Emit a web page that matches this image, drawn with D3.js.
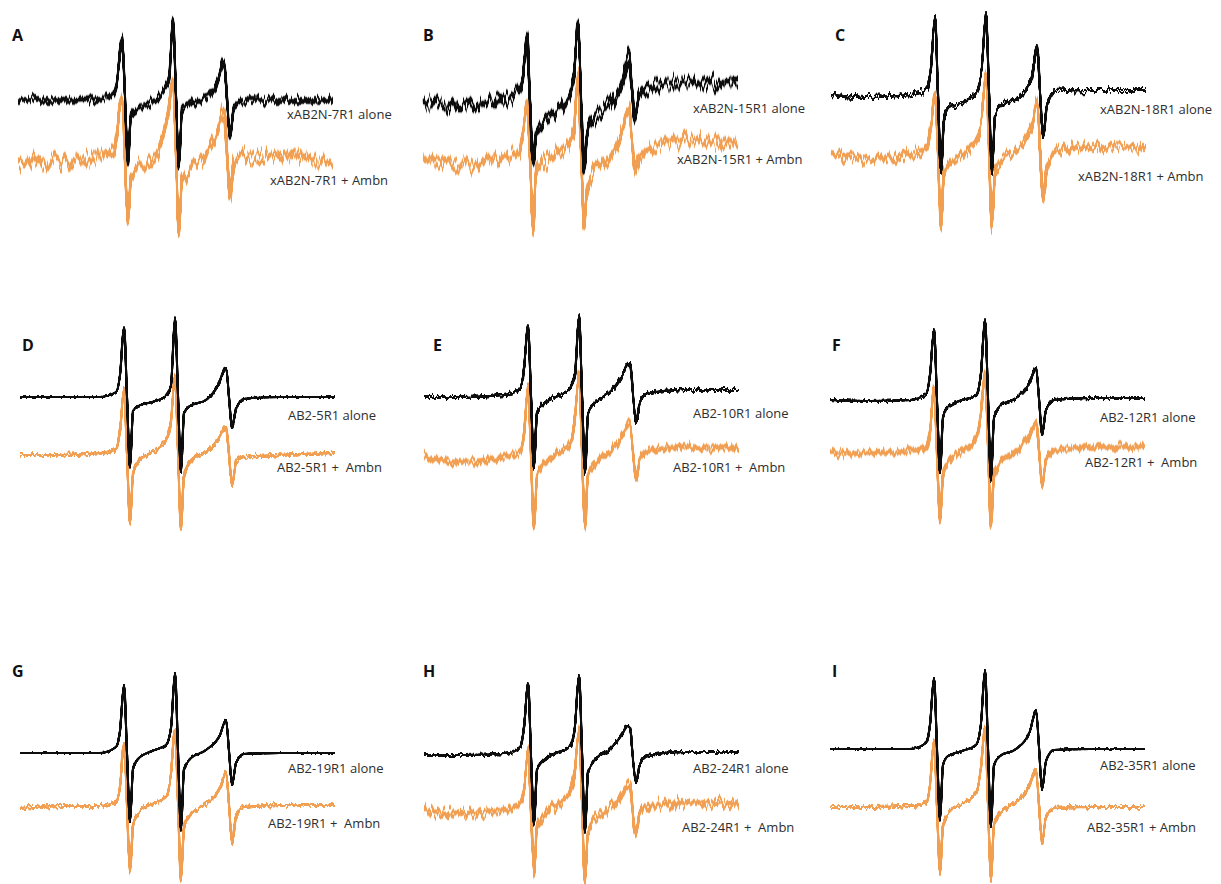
<!DOCTYPE html>
<html>
<head>
<meta charset="utf-8">
<script src="https://cdn.jsdelivr.net/npm/d3@7"></script>
<style>
  html, body { margin: 0; padding: 0; background: #fff; }
  svg { display: block; }
  .tag { font-family: "Open Sans", sans-serif; font-size: 13px; fill: #2e2e2e; white-space: pre; }
  .letter { font-family: "Open Sans", sans-serif; font-weight: 700; font-size: 16px; fill: #111; }
</style>
</head>
<body>
<div id="app"></div>
<script>
// field positions (points along the sweep) shared by every trace
const fieldKeys = [0, 40, 80, 96, 100, 104, 107, 110, 113, 118, 132, 146, 151, 155, 158, 161, 164, 170, 186, 200, 203, 206, 209, 212, 216, 224, 260, 315];

const panelLetters = [`A`, `B`, `C`, `D`, `E`, `F`, `G`, `H`, `I`];

const aloneLabels = [`xAB2N-7R1 alone`, `xAB2N-15R1 alone`, `xAB2N-18R1 alone`, `AB2-5R1 alone`, `AB2-10R1 alone`, `AB2-12R1 alone`, `AB2-19R1 alone`, `AB2-24R1 alone`, `AB2-35R1 alone`];
const ambnLabels = [`xAB2N-7R1 + Ambn`, `xAB2N-15R1 + Ambn`, `xAB2N-18R1 + Ambn`, `AB2-5R1 +  Ambn`, `AB2-10R1 +  Ambn`, `AB2-12R1 +  Ambn`, `AB2-19R1 +  Ambn`, `AB2-24R1 +  Ambn`, `AB2-35R1 + Ambn`];

// signal (a.u.) at each fieldKey, spin label alone (black)
const aloneA = [0, 0, 1, 6, 28, 65, 0, -63, -14, -9, -4, 10, 20, 80, 5, -66, -9, -4, 1, 20, 30, 40, 0, -38, -8, 0, 0, 0];
const aloneB = [0, -6, 0, 8, 25, 62, 0, -70, -35, -22, -13, 2, 25, 78, 3, -73, -35, -18, -5, 22, 35, 45, 12, -17, 4, 12, 17, 18];
const aloneC = [0, -2, 0, 6, 28, 78, 0, -78, -25, -12, -7, 4, 30, 82, 3, -77, -22, -10, -3, 14, 32, 50, 5, -43, -10, 4, 5, 5];
const aloneD = [0, 0, 0, 5, 22, 70, 0, -71, -14, -9, -5, 1, 12, 79, 2, -76, -16, -9, -3, 16, 24, 30, 0, -31, -12, -2, 0, 0];
const aloneE = [0, 0, 2, 8, 28, 72, 0, -71, -15, -8, 0, 9, 22, 82, 3, -76, -18, -7, 5, 25, 32, 34, 2, -26, -5, 4, 7, 7];
const aloneF = [0, -1, 0, 6, 25, 70, 0, -73, -18, -7, 0, 4, 27, 80, 2, -80, -18, -6, 2, 18, 27, 33, 2, -35, -10, 0, 2, 2];
const aloneG = [0, 0, 0, 6, 22, 68, 0, -69, -16, -6, 2, 8, 25, 80, 2, -77, -16, -6, 3, 18, 27, 33, 2, -32, -10, -1, 0, 0];
const aloneH = [0, 0, 1, 7, 28, 72, 0, -70, -15, -7, 2, 8, 30, 80, 3, -77, -17, -6, 6, 24, 30, 28, -5, -27, -8, 0, 3, 3];
const aloneI = [0, 0, 0, 6, 24, 71, 0, -71, -16, -7, -2, 4, 26, 79, 1, -78, -16, -7, 0, 18, 30, 39, 2, -41, -12, -1, 0, 0];

// signal (a.u.) at each fieldKey, with Ambn (orange)
const ambnA = [-2, 0, 3, 12, 35, 62, 0, -65, -15, -7, 0, 26, 55, 78, 3, -72, -20, -10, 4, 32, 45, 50, 5, -40, -2, 5, 5, -5];
const ambnB = [3, -5, 3, 8, 25, 58, 0, -70, -15, -5, 5, 17, 32, 83, 10, -63, -30, -12, 3, 32, 45, 50, 20, -10, 2, 10, 20, 15];
const ambnC = [2, -4, 2, 8, 30, 63, 0, -73, -15, -8, 0, 15, 40, 82, 5, -75, -15, -5, 5, 25, 40, 55, 5, -47, -12, 3, 8, 8];
const ambnD = [0, 0, 2, 6, 25, 65, 0, -68, -20, -7, 3, 14, 35, 78, 3, -75, -20, -7, 3, 18, 24, 27, 0, -30, -8, -2, 0, 2];
const ambnE = [0, -5, 0, 5, 25, 70, 0, -70, -20, -10, 3, 15, 40, 82, 5, -70, -18, -8, 5, 25, 32, 34, 5, -21, 0, 6, 10, 9];
const ambnF = [0, 0, 2, 5, 22, 66, 0, -69, -22, -9, 2, 12, 40, 81, 5, -75, -22, -10, 2, 20, 28, 33, 2, -32, -8, 2, 6, 6];
const ambnG = [-2, 0, 0, 4, 20, 63, 0, -66, -20, -7, 2, 9, 32, 78, 3, -74, -22, -9, 2, 18, 27, 33, 2, -36, -10, -1, 1, 1];
const ambnH = [0, -4, 0, 5, 22, 60, 0, -62, -18, -8, 5, 17, 42, 78, 5, -73, -20, -10, 2, 18, 26, 25, -5, -25, -2, 4, 7, 7];
const ambnI = [0, 0, 1, 4, 22, 67, 0, -65, -18, -6, 3, 14, 40, 79, 3, -73, -18, -6, 5, 22, 32, 37, 2, -36, -10, -1, 0, 0];

const aloneSignal = [aloneA, aloneB, aloneC, aloneD, aloneE, aloneF, aloneG, aloneH, aloneI];
const ambnSignal = [ambnA, ambnB, ambnC, ambnD, ambnE, ambnF, ambnG, ambnH, ambnI];

/* layout */

const W = 1221, H = 884;

const Layout = {
  x0: [18, 423, 831, 20, 424, 830, 20, 424, 830],
  aloneBase: [100, 100, 95, 397, 397, 400, 753, 755, 749],
  ambnBase: [160, 160, 155, 455, 457, 453, 806, 810, 807],
  aloneNoise: [2.5, 4.5, 2, 0.6, 1.5, 1, 0.4, 1, 0.4],
  ambnNoise: [4.8, 4.5, 3.5, 1.5, 2.5, 2.2, 1.5, 3.5, 1.5],
  letterXY: [[12, 41], [423, 41], [835, 41], [22, 351], [433, 351], [832, 351], [12, 677], [423, 677], [832, 677]],
  aloneXY: [[287, 119], [693, 113], [1100, 114], [288, 420], [693, 418], [1100, 422], [288, 773], [693, 773], [1100, 770]],
  ambnXY: [[270, 185], [677, 164], [1078, 181], [277, 472], [673, 472], [1085, 467], [268, 828], [682, 832], [1087, 832]]
};

const svg = d3.select(`#app`).append(`svg`).attr(`width`, W).attr(`height`, H);

const defs = svg.append(`defs`);

// jagged look of the noisy spectra: two vertical displacement passes merged,
// then a short vertical blur with boosted alpha closes the gaps
function noiseFilter (id, amp, seed) {

  let f = defs.append(`filter`).attr(`id`, id)
    .attr(`filterUnits`, `userSpaceOnUse`).attr(`x`, 0).attr(`y`, 0).attr(`width`, W).attr(`height`, H)
    .attr(`color-interpolation-filters`, `sRGB`);

  [0, 1].forEach(p => {

    f.append(`feTurbulence`).attr(`type`, `fractalNoise`).attr(`baseFrequency`, p ? `0.22 0.015` : `0.35 0.02`)
      .attr(`numOctaves`, 2).attr(`seed`, seed + p * 41).attr(`result`, `n${p}`);

    f.append(`feColorMatrix`).attr(`in`, `n${p}`).attr(`type`, `matrix`)
      .attr(`values`, `0 0 0 0 0.5  0 1.6 0 0 -0.3  0 0 0 0 0  0 0 0 0 1`).attr(`result`, `m${p}`);

    f.append(`feDisplacementMap`).attr(`in`, `SourceGraphic`).attr(`in2`, `m${p}`)
      .attr(`scale`, amp * 4.5).attr(`xChannelSelector`, `R`).attr(`yChannelSelector`, `G`).attr(`result`, `d${p}`);
  });

  let m = f.append(`feMerge`).attr(`result`, `mg`);
  m.append(`feMergeNode`).attr(`in`, `d0`);
  m.append(`feMergeNode`).attr(`in`, `d1`);

  f.append(`feGaussianBlur`).attr(`in`, `mg`).attr(`stdDeviation`, `0.35 ${0.35 + amp * 0.22}`).attr(`result`, `b`);

  f.append(`feComponentTransfer`).attr(`in`, `b`)
    .append(`feFuncA`).attr(`type`, `linear`).attr(`slope`, 1.7 + amp * 0.28);
}

const x = d3.scaleLinear().domain([0, 315]);

panelLetters.forEach((L, i) => {

  let xs = x.copy().range([Layout.x0[i], Layout.x0[i] + 315]);

  let traces = [
    {sig: ambnSignal[i], base: Layout.ambnBase[i], noise: Layout.ambnNoise[i], color: `#f19f52`},
    {sig: aloneSignal[i], base: Layout.aloneBase[i], noise: Layout.aloneNoise[i], color: `#0d0d0d`}
  ];

  traces.forEach((T, k) => {

    let ys = d3.scaleLinear().domain([-100, 100]).range([T.base + 100, T.base - 100]);

    let id = `nz${i}${k}`;

    noiseFilter(id, T.noise, i * 7 + k * 3 + 1);

    let line = d3.line().x((d, j) => xs(fieldKeys[j])).y(d => ys(d)).curve(d3.curveMonotoneX);

    svg.append(`path`).datum(T.sig)
      .attr(`d`, line)
      .attr(`fill`, `none`)
      .attr(`stroke`, T.color)
      .attr(`stroke-width`, 2)
      .attr(`stroke-linejoin`, `round`)
      .attr(`filter`, `url(#${id})`);
  });

  svg.append(`text`).attr(`class`, `letter`).attr(`x`, Layout.letterXY[i][0]).attr(`y`, Layout.letterXY[i][1]).text(L);

  svg.append(`text`).attr(`class`, `tag`).attr(`x`, Layout.aloneXY[i][0]).attr(`y`, Layout.aloneXY[i][1]).text(aloneLabels[i]);

  svg.append(`text`).attr(`class`, `tag`).attr(`x`, Layout.ambnXY[i][0]).attr(`y`, Layout.ambnXY[i][1]).text(ambnLabels[i]);
});
</script>
</body>
</html>
